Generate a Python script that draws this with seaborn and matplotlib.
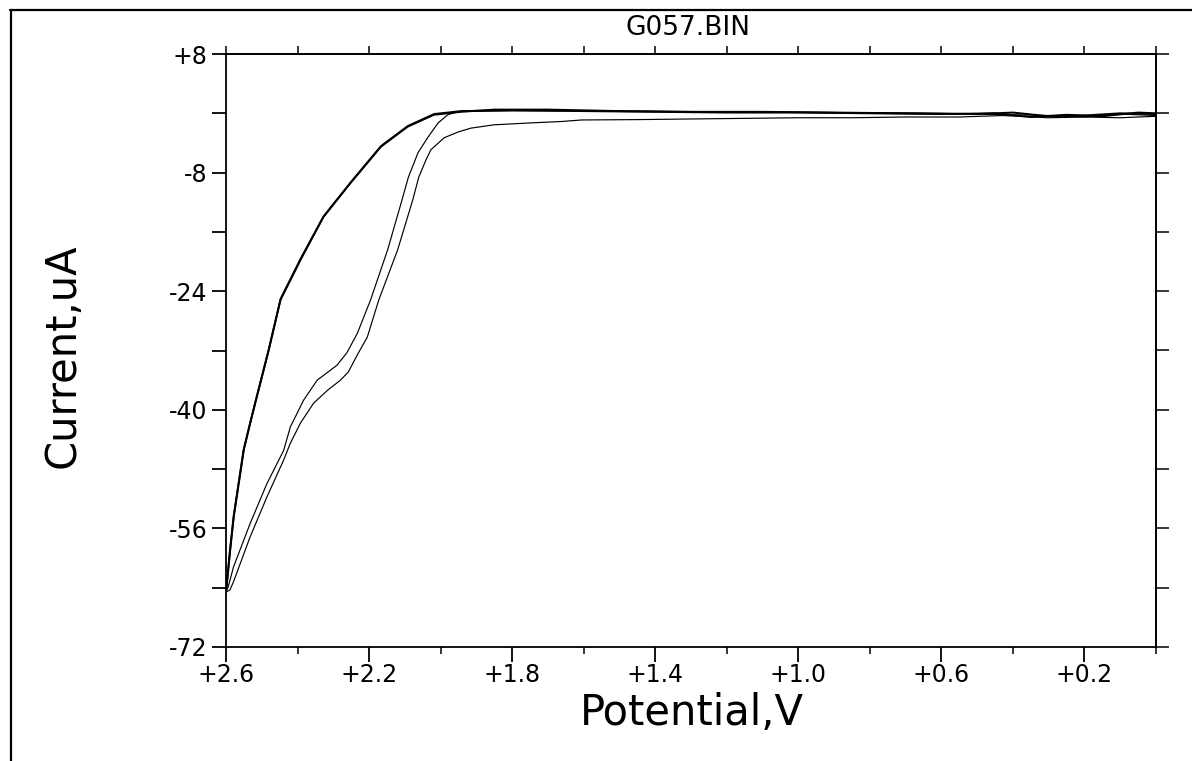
import matplotlib
matplotlib.use("Agg")
import matplotlib.pyplot as plt
from matplotlib.lines import Line2D
import pandas as pd
import seaborn as sns

# ---- cyclic voltammogram, file G057.BIN ----
# cycle 1, cathodic sweep (0.0 V -> 2.6 V)
scan1_fwd_v = [0.00, 0.10, 0.20, 0.30, 0.43, 0.55, 0.70, 0.85, 1.00, 1.27, 1.45, 1.606,
               1.66, 1.75, 1.85, 1.915, 1.95, 1.99, 2.027, 2.041, 2.061, 2.078,
               2.120, 2.173, 2.205, 2.233, 2.258, 2.280, 2.317, 2.355, 2.392, 2.420,
               2.439, 2.486, 2.533, 2.579, 2.589, 2.600]
scan1_fwd_i = [-0.4, -0.6, -0.5, -0.6, -0.3, -0.5, -0.5, -0.6, -0.6, -0.75, -0.85, -0.9,
               -1.1, -1.3, -1.55, -2.0, -2.5, -3.3, -4.9, -6.3, -8.6, -11.7,
               -18.4, -25.2, -30.2, -32.6, -34.9, -36.0, -37.4, -39.1, -41.8, -44.5,
               -46.8, -51.8, -57.2, -63.2, -64.3, -64.6]

# cycle 1, return sweep (2.6 V -> 0.0 V)
scan1_rev_v = [2.600, 2.598, 2.589, 2.579, 2.565, 2.551, 2.533, 2.519, 2.500, 2.481,
               2.448, 2.392, 2.328, 2.252, 2.167, 2.092, 2.019, 1.943, 1.85,
               1.70, 1.50, 1.30, 1.10, 0.90, 0.70, 0.50, 0.40, 0.30, 0.20, 0.10, 0.00]
scan1_rev_i = [-64.6, -63.5, -59.0, -54.5, -50.0, -45.5, -41.9, -39.2, -35.6, -32.0,
               -25.2, -19.8, -14.0, -9.4, -4.5, -1.8, -0.2, 0.2, 0.5,
               0.5, 0.3, 0.2, 0.2, 0.1, 0.0, -0.1, 0.1, -0.4, -0.3, 0.0, -0.1]

# cycle 2, cathodic sweep (0.0 V -> 2.6 V)
scan2_fwd_v = [0.00, 0.10, 0.20, 0.30, 0.40, 0.60, 0.90, 1.20, 1.50, 1.80, 1.95,
               1.98, 2.007, 2.035, 2.063, 2.090, 2.108, 2.148, 2.196, 2.233, 2.262,
               2.290, 2.345, 2.383, 2.420, 2.439, 2.486, 2.533, 2.579, 2.594, 2.600]
scan2_fwd_i = [-0.3, -0.1, -0.5, -0.3, -0.2, 0.0, 0.1, 0.2, 0.3, 0.35, 0.25,
               -0.2, -1.3, -3.2, -5.3, -8.6, -11.7, -18.4, -25.2, -29.7, -32.3,
               -34.0, -36.0, -38.7, -42.3, -45.5, -50.0, -55.4, -61.2, -63.9, -64.5]

# cycle 2, return sweep (2.6 V -> 0.0 V)
scan2_rev_v = [2.600, 2.597, 2.588, 2.578, 2.564, 2.550, 2.532, 2.518, 2.499, 2.480,
               2.447, 2.391, 2.327, 2.251, 2.166, 2.091, 2.018, 1.942, 1.80,
               1.60, 1.40, 1.20, 1.00, 0.80, 0.60, 0.45, 0.35, 0.25, 0.15, 0.05, 0.00]
scan2_rev_i = [-64.5, -63.2, -58.8, -54.3, -49.8, -45.3, -41.7, -39.0, -35.4, -31.8,
               -25.0, -19.6, -13.9, -9.3, -4.4, -1.7, -0.1, 0.3, 0.4,
               0.3, 0.2, 0.1, 0.1, 0.0, -0.1, 0.0, -0.5, -0.2, -0.4, 0.1, 0.0]

# axis ticks
x_major = [2.6, 2.2, 1.8, 1.4, 1.0, 0.6, 0.2]
x_major_labels = ["+2.6", "+2.2", "+1.8", "+1.4", "+1.0", "+0.6", "+0.2"]
x_minor = [2.4, 2.0, 1.6, 1.2, 0.8, 0.4, 0.0]
y_major = [8, -8, -24, -40, -56, -72]
y_major_labels = ["+8", "-8", "-24", "-40", "-56", "-72"]
y_minor = [0, -16, -32, -48, -64]

sns.set_style("ticks")
plt.rcParams["font.family"] = ["DejaVu Sans"]

scans = [
    ("cycle 1 cathodic", scan1_fwd_v, scan1_fwd_i, 0.85),
    ("cycle 1 return", scan1_rev_v, scan1_rev_i, 1.4),
    ("cycle 2 cathodic", scan2_fwd_v, scan2_fwd_i, 0.85),
    ("cycle 2 return", scan2_rev_v, scan2_rev_i, 1.4),
]
df = pd.concat(
    [pd.DataFrame({"potential": v, "current": i, "scan": name})
     for name, v, i, _ in scans],
    ignore_index=True,
)

fig = plt.figure(figsize=(11.92, 7.61), dpi=100)
ax = fig.add_axes([226 / 1192, 1 - 647 / 761, 930 / 1192, 593 / 761])

for name, _, _, lw in scans:
    sns.lineplot(data=df[df["scan"] == name], x="potential", y="current",
                 estimator=None, sort=False, color="black", linewidth=lw, ax=ax)

ax.set_xlim(2.6, 0.0)
ax.set_ylim(-72, 8)

spine_lw = 1.3
for s in ax.spines.values():
    s.set_linewidth(spine_lw)
    s.set_color("black")

ax.set_xticks(x_major)
ax.set_xticklabels(x_major_labels)
ax.set_xticks(x_minor, minor=True)
ax.set_yticks(y_major)
ax.set_yticklabels(y_major_labels)
ax.set_yticks(y_minor, minor=True)
ax.tick_params(axis="x", which="major", direction="out", length=10.8, width=spine_lw,
               labelsize=17, pad=0.5, colors="black")
ax.tick_params(axis="x", which="minor", direction="out", length=5, width=spine_lw)
ax.tick_params(axis="y", which="both", direction="out", length=10, width=spine_lw,
               labelsize=17, pad=3.5, colors="black")

# plain ticks on the opposite sides
top = ax.secondary_xaxis("top")
top.set_xticks(sorted(x_major + x_minor))
top.set_xticklabels([])
top.tick_params(direction="out", length=5.8, width=spine_lw)
top.spines["top"].set_linewidth(spine_lw)

right = ax.secondary_yaxis("right")
right.set_yticks(sorted(y_major + y_minor))
right.set_yticklabels([])
right.tick_params(direction="out", length=9.4, width=spine_lw)
right.spines["right"].set_linewidth(spine_lw)

ax.set_xlabel("Potential,V", fontsize=30, va="center", color="black")
ax.set_ylabel("Current,uA", fontsize=30, va="center", color="black")
ax.xaxis.set_label_coords(0.501, -0.112)
ax.yaxis.set_label_coords(-0.176, 0.492)

fig.text(688 / 1192, 1 - 28 / 761, "G057.BIN", ha="center", va="center", fontsize=19,
         color="black")

# page frame (top and left edges)
fig.add_artist(Line2D([10 / 1192, 1.0], [1 - 10 / 761] * 2, transform=fig.transFigure,
                      color="black", linewidth=1.6))
fig.add_artist(Line2D([11 / 1192] * 2, [0.0, 1 - 10 / 761], transform=fig.transFigure,
                      color="black", linewidth=1.6))

fig.savefig("out.png", dpi=100, facecolor="white")
